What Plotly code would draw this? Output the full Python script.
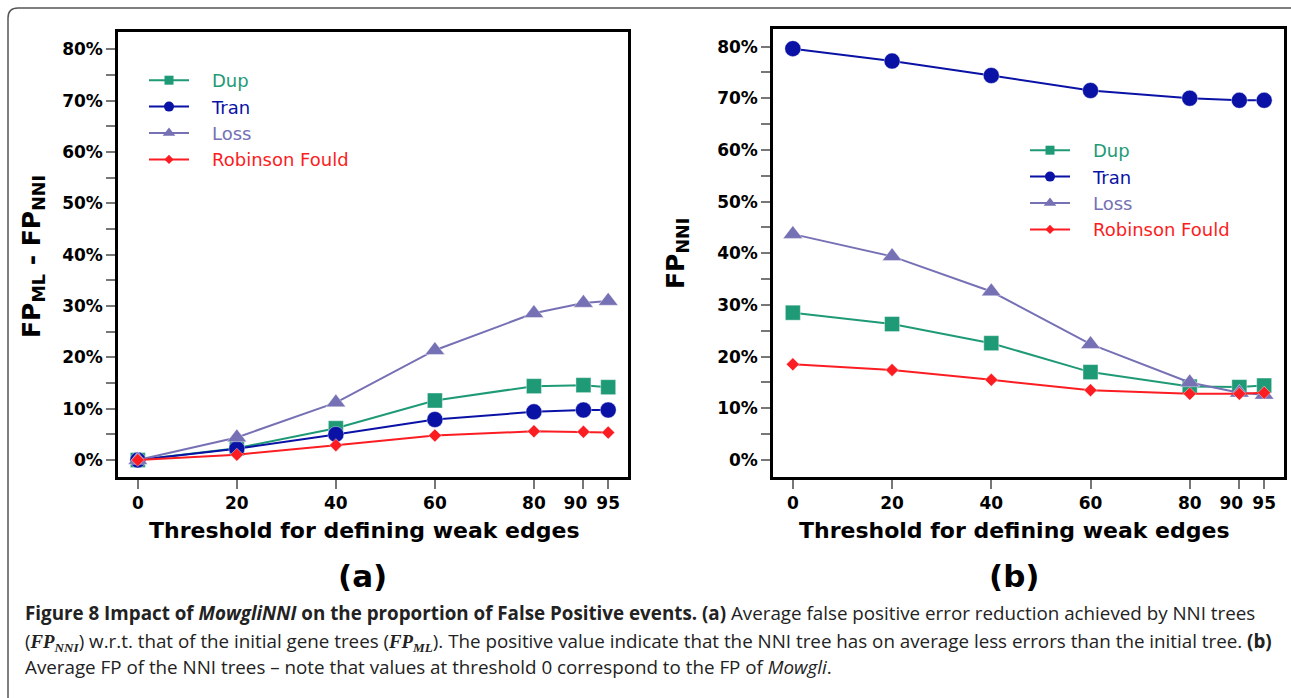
import plotly.graph_objects as go

# threshold values on the x axis
thresholds = [0, 20, 40, 60, 80, 90, 95]
threshold_labels = ["0", "20", "40", "60", "80", "", "95"]
# the "90" label sits slightly left of its tick in the original
shifted_vals = [90]
shifted_labels = ["90"]

# y tick values and labels
pct_ticks = list(range(0, 81, 10))
pct_labels = [f"{v}%" for v in pct_ticks]

# panel (a): FP_ML - FP_NNI (%)
a_dup = [0, 2.3, 6.2, 11.6, 14.4, 14.6, 14.2]
a_tran = [0, 2.2, 5.0, 7.9, 9.4, 9.75, 9.75]
a_loss = [0, 4.4, 11.2, 21.4, 28.6, 30.6, 31.0]
a_rf = [0, 1.05, 2.9, 4.8, 5.6, 5.5, 5.35]

# panel (b): FP_NNI (%)
b_dup = [28.5, 26.3, 22.6, 17.0, 14.2, 14.1, 14.4]
b_tran = [79.6, 77.2, 74.4, 71.5, 70.0, 69.6, 69.6]
b_loss = [43.7, 39.4, 32.6, 22.4, 15.0, 13.0, 12.6]
b_rf = [18.5, 17.4, 15.5, 13.5, 12.8, 12.8, 13.0]

series_names = ["Dup", "Tran", "Loss", "Robinson Fould"]
colors = {"Dup": "#1f9a76", "Tran": "#0a12a6", "Loss": "#7670b5", "Robinson Fould": "#fb1d22"}
symbols = {"Dup": "square", "Tran": "circle", "Loss": "triangle-up", "Robinson Fould": "diamond"}
sizes = {"Dup": 15, "Tran": 16, "Loss": 17, "Robinson Fould": 10}
legend_sizes = {"Dup": 9, "Tran": 10, "Loss": 11, "Robinson Fould": 7}

W, H = 1291, 698
px_x = lambda v: v / W
px_y = lambda v: 1 - v / H

fig = go.Figure()

panels = [
    ("x", "y", {"Dup": a_dup, "Tran": a_tran, "Loss": a_loss, "Robinson Fould": a_rf}, "legend"),
    ("x2", "y2", {"Dup": b_dup, "Tran": b_tran, "Loss": b_loss, "Robinson Fould": b_rf}, "legend2"),
]

for xa, ya, data, leg in panels:
    for name in series_names:
        fig.add_trace(go.Scatter(
            x=thresholds, y=data[name], mode="lines+markers", xaxis=xa, yaxis=ya,
            line=dict(color=colors[name], width=2),
            marker=dict(symbol=symbols[name], size=sizes[name], color=colors[name],
                        line=dict(color="rgba(255,255,255,0.5)", width=0.8)),
            showlegend=False, hoverinfo="x+y+name", name=name,
        ))
    # legend-only entries with small markers
    for name in series_names:
        fig.add_trace(go.Scatter(
            x=[None], y=[None], mode="lines+markers", xaxis=xa, yaxis=ya,
            line=dict(color=colors[name], width=2),
            marker=dict(symbol=symbols[name], size=legend_sizes[name], color=colors[name]),
            name=f"<span style='color:{colors[name]}'>\u2003{name}</span>",
            legend=leg, showlegend=True,
        ))

tick_font = dict(family="DejaVu Sans", size=17, color="black", weight="bold")
xcommon = dict(
    range=[-4, 99], tickvals=thresholds, ticktext=threshold_labels, ticks="outside",
    ticklen=9, tickwidth=1.5, tickcolor="#777", tickangle=0, showgrid=False, zeroline=False,
    showline=True, mirror=True, linecolor="black", linewidth=2.5, tickfont=tick_font,
)
xshift = dict(
    range=[-4, 99], tickvals=shifted_vals, ticktext=shifted_labels, ticks="outside",
    ticklen=9, tickwidth=1.5, tickcolor="rgba(0,0,0,0)", ticklabelshift=-8,
    ticklabelstandoff=2, tickangle=0,
    showgrid=False, zeroline=False, showline=False, tickfont=tick_font, side="bottom",
)
ycommon = dict(
    range=[-3.3, 83.4], tickvals=pct_ticks, ticktext=pct_labels,
    ticks="outside", ticklen=9, tickwidth=1.5, tickcolor="#777",
    minor=dict(dtick=5, ticks="outside", ticklen=9, tickwidth=1.5, tickcolor="#777", showgrid=False),
    showgrid=False, zeroline=False, showline=True, mirror=True,
    linecolor="black", linewidth=2.5, tickfont=tick_font,
)

legend_common = dict(xanchor="left", yanchor="top", bgcolor="rgba(0,0,0,0)",
                     font=dict(size=18, family="DejaVu Sans"), itemwidth=40, tracegroupgap=0)

dom_a = [px_x(118), px_x(628)]
dom_b = [px_x(773), px_x(1284)]

fig.update_layout(
    width=W, height=H, margin=dict(l=0, r=0, t=0, b=0),
    paper_bgcolor="white", plot_bgcolor="white",
    font=dict(family="DejaVu Sans", color="black"),
    xaxis=dict(domain=dom_a, anchor="y", **xcommon),
    yaxis=dict(domain=[px_y(477), px_y(32)], anchor="x", **ycommon),
    xaxis2=dict(domain=dom_b, anchor="y2", **xcommon),
    yaxis2=dict(domain=[px_y(477), px_y(29)], anchor="x2", **ycommon),
    xaxis3=dict(domain=dom_a, anchor="y", overlaying="x", **xshift),
    xaxis4=dict(domain=dom_b, anchor="y2", overlaying="x2", **xshift),
    legend=dict(x=px_x(144), y=px_y(62), **legend_common),
    legend2=dict(x=px_x(1025), y=px_y(132), **legend_common),
    showlegend=True,
)
# the overlay axes need a trace to be drawn
for xa, ya in (("x3", "y"), ("x4", "y2")):
    fig.add_trace(go.Scatter(x=[None], y=[None], xaxis=xa, yaxis=ya, showlegend=False, hoverinfo="skip"))

# outer rounded frame of the figure
r = 10
fig.add_shape(
    type="path", xref="paper", yref="paper",
    path=(f"M {px_x(8)},{px_y(720)} L {px_x(8)},{px_y(8 + r)} "
          f"Q {px_x(8)},{px_y(8)} {px_x(8 + r)},{px_y(8)} L {px_x(1300)},{px_y(8)}"),
    line=dict(color="#555", width=1.5),
)

ann = []
title_font = dict(family="DejaVu Sans", size=22, color="black", weight="bold")
ann.append(dict(text="Threshold for defining weak edges", x=px_x(364), y=px_y(530), font=title_font))
ann.append(dict(text="Threshold for defining weak edges", x=px_x(1014), y=px_y(530), font=title_font))
panel_font = dict(family="DejaVu Sans", size=31, color="black", weight="bold")
ann.append(dict(text="(a)", x=px_x(363), y=px_y(576), font=panel_font))
ann.append(dict(text="(b)", x=px_x(1014), y=px_y(576), font=panel_font))
ytitle_font = dict(family="DejaVu Sans", size=25, color="black", weight="bold")
ann.append(dict(text="FP<sub>ML</sub> - FP<sub>NNI</sub>", textangle=-90,
                x=px_x(33), y=px_y(257), font=ytitle_font))
ann.append(dict(text="FP<sub>NNI</sub>", textangle=-90,
                x=px_x(677), y=px_y(254), font=ytitle_font))

serif = "font-family:'Liberation Serif', 'DejaVu Serif', serif"
cap_font = dict(family="Open Sans", size=18.8, color="#222")
cap_lines = [
    "<b>Figure 8 Impact of <i>MowgliNNI</i> on the proportion of False Positive events. (a)</b> "
    "Average false positive error reduction achieved by NNI trees",
    f"(<span style=\"{serif}\"><b><i>FP<sub>NNI</sub></i></b></span>) w.r.t. that of the initial gene trees "
    f"(<span style=\"{serif}\"><b><i>FP<sub>ML</sub></i></b></span>). The positive value indicate that the NNI tree "
    "has on average less errors than the initial tree. <b>(b)</b>",
    "Average FP of the NNI trees \u2013 note that values at threshold 0 correspond to the FP of <i>Mowgli</i>.",
]
for line, yy in zip(cap_lines, [613, 641, 667]):
    ann.append(dict(text=line, x=px_x(23), y=px_y(yy), xanchor="left", font=cap_font))

for a in ann:
    a.setdefault("xanchor", "center")
    fig.add_annotation(xref="paper", yref="paper", yanchor="middle", showarrow=False, **a)

fig.write_html("out.html", config={"displayModeBar": False},
               post_script="document.body.style.margin = '0';")
